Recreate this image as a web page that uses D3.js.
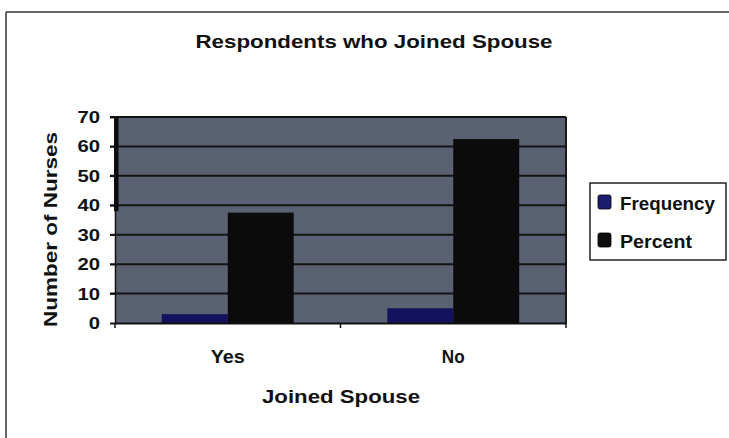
<!DOCTYPE html>
<html>
<head>
<meta charset="utf-8">
<script src="https://cdn.jsdelivr.net/npm/d3@7"></script>
<style>
  html, body { margin: 0; padding: 0; background: #ffffff; }
  svg { display: block; }
  text { font-family: "Liberation Sans", Arial, sans-serif; font-weight: bold; fill: #111; }
</style>
</head>
<body>
<svg id="chart" width="729" height="438"></svg>
<script>
// ---- data ----
const categories = ["Yes", "No"];
const seriesNames = ["Frequency", "Percent"];
const frequency = [3, 5];
const percent = [37.5, 62.5];
const yTicks = [0, 10, 20, 30, 40, 50, 60, 70];
const titleText = "Respondents who Joined Spouse";
const xTitle = "Joined Spouse";
const yTitle = "Number of Nurses";

const colors = { Frequency: "#12125e", Percent: "#0b0b0b" };
const legendColors = { Frequency: "#1c1c70", Percent: "#0e0e0e" };

const svg = d3.select("#chart");

// outer frame (top and left edges visible)
svg.append("line").attr("x1", 6).attr("y1", 12).attr("x2", 729).attr("y2", 12)
  .attr("stroke", "#333").attr("stroke-width", 1.5);
svg.append("line").attr("x1", 6).attr("y1", 12).attr("x2", 6).attr("y2", 438)
  .attr("stroke", "#333").attr("stroke-width", 1.5);

// plot geometry
const plot = { left: 115, right: 566, top: 117, bottom: 323 };

const x0 = d3.scaleBand().domain(categories).range([plot.left, plot.right]).padding(0);
const groupW = x0.bandwidth() * 0.585;
const x1 = d3.scaleBand().domain(seriesNames).range([0, groupW]).padding(0);
const y = d3.scaleLinear().domain([0, 70]).range([plot.bottom, plot.top]);

// plot background
svg.append("rect")
  .attr("x", plot.left).attr("y", plot.top)
  .attr("width", plot.right - plot.left).attr("height", plot.bottom - plot.top)
  .attr("fill", "#5a6172");

// gridlines
svg.append("g")
  .selectAll("line")
  .data(yTicks.filter(t => t > 0))
  .join("line")
  .attr("x1", plot.left - 5).attr("x2", plot.right)
  .attr("y1", d => y(d)).attr("y2", d => y(d))
  .attr("stroke", "#141414").attr("stroke-width", 2);

// right border of plot
svg.append("line").attr("x1", plot.right).attr("x2", plot.right)
  .attr("y1", plot.top).attr("y2", plot.bottom)
  .attr("stroke", "#1a1a1a").attr("stroke-width", 2);

// thick left artifact bar
const leftMarkTo = 38;
svg.append("rect")
  .attr("x", plot.left - 1).attr("y", y(70))
  .attr("width", 4.5).attr("height", y(leftMarkTo) - y(70))
  .attr("fill", "#0a0a0a");

// bars
const rows = categories.map((c, i) => ({ cat: c, vals: [
  { key: "Frequency", v: frequency[i] },
  { key: "Percent", v: percent[i] }
]}));

const groups = svg.append("g").selectAll("g")
  .data(rows).join("g")
  .attr("transform", d => `translate(${x0(d.cat) + (x0.bandwidth() - groupW) / 2},0)`);

groups.selectAll("rect")
  .data(d => d.vals).join("rect")
  .attr("x", d => x1(d.key))
  .attr("width", x1.bandwidth())
  .attr("y", d => y(d.v))
  .attr("height", d => y(0) - y(d.v))
  .attr("fill", d => colors[d.key]);

// y axis
const yAxis = svg.append("g")
  .attr("transform", `translate(${plot.left},0)`)
  .call(d3.axisLeft(y).tickValues(yTicks).tickSize(5).tickPadding(10).tickFormat(d3.format("d")));
yAxis.attr("font-size", null).attr("font-family", null);
yAxis.select(".domain").attr("stroke", "#111").attr("stroke-width", 1.5);
yAxis.selectAll(".tick line").attr("stroke", "#111").attr("stroke-width", 1.5);
yAxis.selectAll(".tick text")
  .style("font-size", "17px").style("font-weight", "bold")
  .attr("textLength", d => String(d).length * 11.3)
  .attr("lengthAdjust", "spacingAndGlyphs")
  .attr("fill", "#111");

// x axis
const xAxis = svg.append("g")
  .attr("transform", `translate(0,${plot.bottom})`)
  .call(d3.axisBottom(x0).tickSize(0).tickPadding(27));
xAxis.attr("font-size", null).attr("font-family", null);
xAxis.select(".domain").attr("stroke", "#111").attr("stroke-width", 2);
xAxis.selectAll(".tick text")
  .style("font-size", "18px").style("font-weight", "bold")
  .attr("textLength", d => d.length * 11.4)
  .attr("lengthAdjust", "spacingAndGlyphs")
  .attr("fill", "#111");
// category boundary tick marks
svg.append("g").selectAll("line")
  .data([...categories.map(c => x0(c)), plot.right])
  .join("line")
  .attr("x1", d => d).attr("x2", d => d)
  .attr("y1", plot.bottom).attr("y2", plot.bottom + 5)
  .attr("stroke", "#111").attr("stroke-width", 1.5);

// title
svg.append("text")
  .attr("x", 374).attr("y", 48)
  .attr("text-anchor", "middle")
  .attr("textLength", 357).attr("lengthAdjust", "spacingAndGlyphs")
  .style("font-size", "19px")
  .text(titleText);

// x title
svg.append("text")
  .attr("x", 341).attr("y", 403)
  .attr("text-anchor", "middle")
  .attr("textLength", 158).attr("lengthAdjust", "spacingAndGlyphs")
  .style("font-size", "18px")
  .text(xTitle);

// y title
svg.append("text")
  .attr("transform", "translate(57,229.5) rotate(-90)")
  .attr("text-anchor", "middle")
  .attr("textLength", 195).attr("lengthAdjust", "spacingAndGlyphs")
  .style("font-size", "18px")
  .text(yTitle);

// legend
const legend = svg.append("g");
legend.append("rect")
  .attr("x", 590).attr("y", 183).attr("width", 136).attr("height", 77)
  .attr("fill", "#fff").attr("stroke", "#222").attr("stroke-width", 1.5);
const legendWidths = { Frequency: 95, Percent: 72 };
const li = legend.selectAll("g.item").data(seriesNames).join("g")
  .attr("class", "item")
  .attr("transform", (d, i) => `translate(598,${195 + i * 38})`);
li.append("rect").attr("width", 13).attr("height", 14).attr("rx", 2)
  .attr("fill", d => legendColors[d]).attr("stroke", "#000").attr("stroke-width", 0.8);
li.append("text")
  .attr("x", 22).attr("y", 15)
  .attr("textLength", d => legendWidths[d]).attr("lengthAdjust", "spacingAndGlyphs")
  .style("font-size", "19px")
  .text(d => d);
</script>
</body>
</html>
